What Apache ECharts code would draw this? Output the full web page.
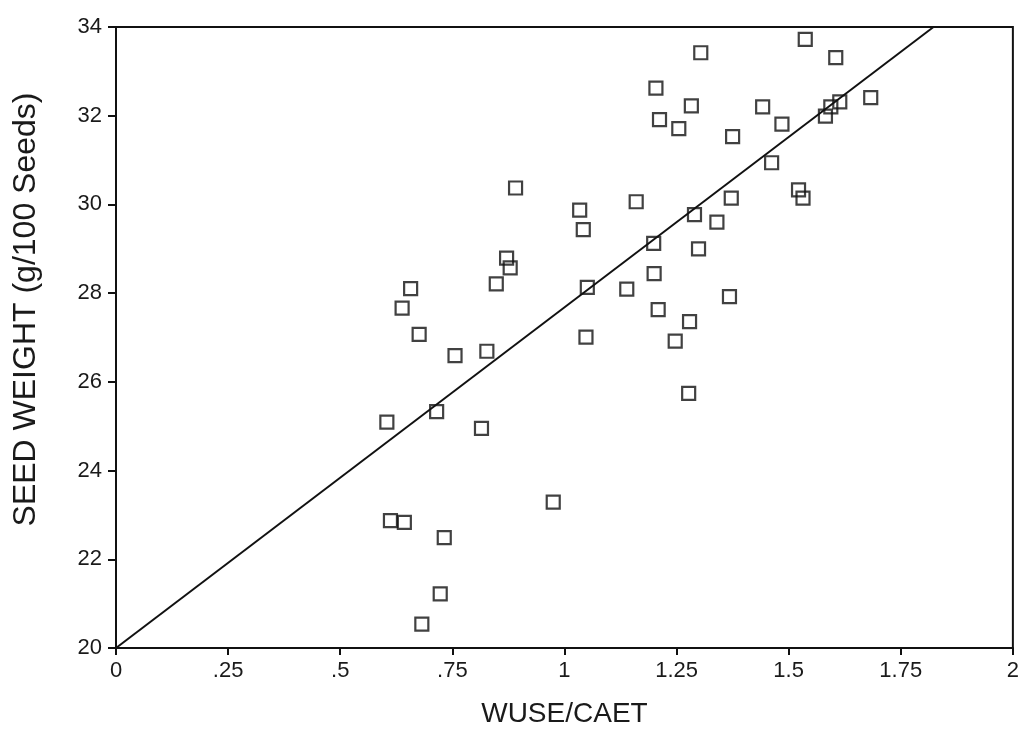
<!DOCTYPE html>
<html>
<head>
<meta charset="utf-8">
<script src="https://cdn.jsdelivr.net/npm/echarts@6/dist/echarts.min.js"></script>
<style>html,body{margin:0;padding:0;background:#fff;}#c{width:1022px;height:733px;}</style>
</head>
<body>
<div id="c"></div>
<script>
// WUSE/CAET (x) and seed weight g/100 seeds (y)
var wuse = [1.537,1.304,1.605,1.204,1.283,1.212,1.255,1.442,1.485,1.683,1.614,1.594,1.582,1.375,1.462,0.891,1.160,1.034,1.372,1.522,1.532,1.042,1.290,1.340,1.199,0.871,0.879,1.200,1.299,0.657,0.848,1.051,1.139,0.638,1.368,1.209,0.676,1.279,1.048,0.827,0.756,1.247,1.277,0.604,0.715,0.815,0.975,0.612,0.643,0.732,0.723,0.682];
var seedWeight = [33.72,33.42,33.31,32.62,32.22,31.91,31.71,32.20,31.81,32.41,32.31,32.20,31.99,31.53,30.94,30.37,30.06,29.87,30.14,30.33,30.14,29.43,29.77,29.60,29.12,28.79,28.57,28.44,29.00,28.10,28.21,28.13,28.09,27.66,27.92,27.63,27.07,27.36,27.01,26.69,26.59,26.92,25.74,25.09,25.33,24.95,23.29,22.87,22.83,22.49,21.22,20.54];
// regression line end points
var fitX = [0, 1.823];
var fitY = [20, 34];
var xTickLabels = ['0', '.25', '.5', '.75', '1', '1.25', '1.5', '1.75', '2'];
var yTickLabels = ['20', '22', '24', '26', '28', '30', '32', '34'];

var pts = wuse.map(function (v, i) { return [v, seedWeight[i]]; });
var fit = fitX.map(function (v, i) { return [v, fitY[i]]; });
var FONT = 'Liberation Sans';
var chart = echarts.init(document.getElementById('c'), null, {renderer: 'canvas'});
chart.setOption({
  animation: false,
  backgroundColor: '#fff',
  grid: {left: 116, right: 6, top: 27, bottom: 75, show: true, borderColor: '#111', borderWidth: 2},
  xAxis: {
    type: 'value', min: 0, max: 2, interval: 0.25,
    name: 'WUSE/CAET', nameLocation: 'middle', nameGap: 52,
    nameTextStyle: {fontFamily: FONT, fontSize: 28, color: '#1a1a1a'},
    axisLine: {show: true, lineStyle: {color: '#111', width: 2}},
    axisTick: {show: true, inside: false, length: 7, lineStyle: {color: '#111', width: 2}},
    splitLine: {show: false},
    axisLabel: {
      fontFamily: FONT, fontSize: 22, color: '#1a1a1a', margin: 12,
      formatter: function (v) { return xTickLabels[Math.round(v / 0.25)]; }
    }
  },
  yAxis: {
    type: 'value', min: 20, max: 34, interval: 2,
    name: 'SEED WEIGHT (g/100 Seeds)', nameLocation: 'middle', nameGap: 74,
    nameTextStyle: {fontFamily: FONT, fontSize: 32, color: '#1a1a1a', padding: [0, 0, 0, 56]},
    axisLine: {show: true, lineStyle: {color: '#111', width: 2}},
    axisTick: {show: true, inside: false, length: 8, lineStyle: {color: '#111', width: 2}},
    splitLine: {show: false},
    axisLabel: {
      fontFamily: FONT, fontSize: 22, color: '#1a1a1a', margin: 14,
      formatter: function (v) { return yTickLabels[Math.round((v - 20) / 2)]; }
    }
  },
  series: [
    {
      type: 'line', data: fit, symbol: 'none', silent: true,
      lineStyle: {color: '#111', width: 2}, z: 2
    },
    {
      type: 'scatter', data: pts, symbol: 'rect', symbolSize: 13,
      itemStyle: {color: 'rgba(0,0,0,0)', borderColor: '#111', borderWidth: 2.2}, z: 3
    }
  ]
});
</script>
</body>
</html>
